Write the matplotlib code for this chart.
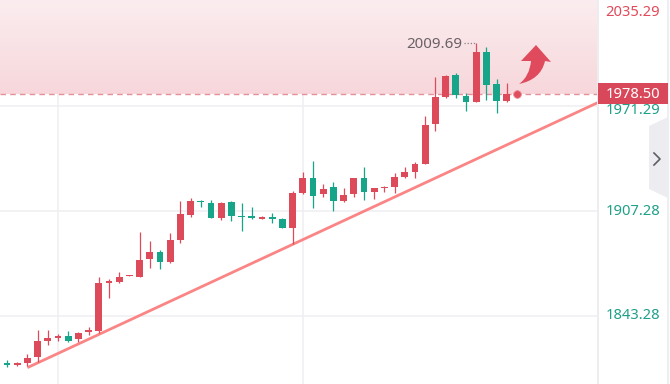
import matplotlib
matplotlib.use("Agg")
import matplotlib.pyplot as plt
import numpy as np
from matplotlib.path import Path
from matplotlib.patches import PathPatch, Polygon, Rectangle
from matplotlib import transforms
from matplotlib.colors import LinearSegmentedColormap

plt.rcParams['font.family'] = ['Noto Sans', 'DejaVu Sans']

# ---- data ----
idx = list(range(-1, 50))
opens = [1815.24, 1814.63, 1813.41, 1814.63, 1818.29, 1828.04, 1830.17, 1831.09, 1829.26, 1833.83,
         1834.14, 1863.40, 1864.01, 1867.36, 1867.05, 1878.03, 1882.29, 1876.20, 1889.61, 1904.85,
         1913.38, 1912.16, 1903.02, 1912.77, 1904.24, 1904.24, 1902.71, 1903.32, 1902.41, 1896.92,
         1918.26, 1927.40, 1917.65, 1921.91, 1913.38, 1917.65, 1927.40, 1918.87, 1921.00, 1921.91,
         1928.01, 1931.06, 1935.93, 1960.32, 1976.78, 1990.19, 1977.39, 1973.73, 2004.21, 1984.70,
         1974.34]
closes = [1814.02, 1813.41, 1814.63, 1817.68, 1828.04, 1829.87, 1830.78, 1828.04, 1832.92, 1834.44,
          1863.40, 1864.62, 1867.05, 1867.97, 1877.42, 1882.29, 1876.20, 1889.61, 1905.46, 1913.38,
          1912.77, 1903.02, 1912.16, 1904.24, 1903.63, 1903.02, 1903.32, 1902.71, 1896.92, 1918.26,
          1927.40, 1916.43, 1920.70, 1913.38, 1917.04, 1927.40, 1918.87, 1921.31, 1921.61, 1928.01,
          1931.06, 1935.93, 1959.71, 1976.78, 1989.58, 1978.00, 1973.73, 2004.21, 1984.09, 1974.34,
          1978.50]
highs = [1816.46, 1816.46, 1815.24, 1820.12, 1834.75, 1834.75, 1832.31, 1834.14, 1833.53, 1836.58,
         1867.05, 1865.83, 1870.10, 1867.97, 1894.48, 1889.00, 1883.51, 1893.87, 1913.38, 1915.21,
         1913.99, 1913.99, 1912.77, 1913.38, 1912.16, 1909.72, 1904.24, 1906.07, 1903.02, 1919.48,
         1931.06, 1937.76, 1923.74, 1924.96, 1921.31, 1927.40, 1934.11, 1921.31, 1922.52, 1930.45,
         1934.11, 1937.15, 1965.19, 1988.97, 1990.19, 1991.41, 1979.21, 2009.69, 2007.25, 1987.75,
         1985.31]
lows = [1812.80, 1812.19, 1812.80, 1812.80, 1815.24, 1825.60, 1828.04, 1827.43, 1827.43, 1831.70,
        1832.92, 1854.25, 1863.40, 1867.36, 1867.05, 1872.54, 1871.93, 1875.59, 1887.78, 1903.63,
        1909.72, 1903.02, 1901.80, 1901.19, 1895.09, 1902.41, 1902.41, 1899.97, 1896.92, 1887.17,
        1917.65, 1909.11, 1915.82, 1907.29, 1912.77, 1915.82, 1913.99, 1914.60, 1918.87, 1918.26,
        1927.40, 1927.40, 1935.93, 1956.05, 1976.17, 1976.17, 1968.24, 1973.73, 1974.95, 1967.02,
        1973.73]

axis_ticks = [1843.28, 1907.28, 1971.29, 2035.29]
axis_labels = ["1843.28", "1907.28", "1971.29", "2035.29"]
current_price = 1978.50
current_label = "1978.50"
high_idx = 46
high_label = "2009.69"
trend_x = [2.0, 58.0]
trend_y = [1811.8, 1973.6]
vgrid_idx = [5, 29]

RED = "#dd4b5b"
GREEN = "#16a588"
W, H = 670, 384

fig = plt.figure(figsize=(W / 100, H / 100), dpi=100)
ax = fig.add_axes([0, 0, 597 / W, 1])
xmin, xmax = -0.686, 57.84
ymin, ymax = 1801.83, 2035.9
ax.set_xlim(xmin, xmax)
ax.set_ylim(ymin, ymax)
ax.axis('off')

# grid
for t in axis_ticks:
    ax.axhline(t, color="#efeff3", lw=1.1, zorder=0.2)
for v in vgrid_idx:
    ax.axvline(v, color="#efeff3", lw=1.1, zorder=0.2)

# pink gradient zone
grad = np.linspace(0, 1, 100).reshape(-1, 1)
cmap = LinearSegmentedColormap.from_list("pk", ["#fbedef", "#f7d7db"])
ax.imshow(grad, extent=[xmin, xmax, current_price, ymax], aspect='auto',
          cmap=cmap, origin='upper', zorder=0.5, interpolation='bilinear')
ax.axhline(current_price, color="#e4909a", lw=1.0, ls=(0, (4, 3)), zorder=0.6)

# trend line
ax.plot(trend_x, trend_y, color="#fb8585", lw=2.0, zorder=1, solid_capstyle='butt')

# candles
o = np.array(opens); c = np.array(closes); h = np.array(highs); l = np.array(lows)
x = np.array(idx)
cols = [RED if cc >= oo else GREEN for oo, cc in zip(o, c)]
ax.vlines(x, l, h, colors=cols, lw=0.9, zorder=2)
bottoms = np.minimum(o, c)
heights = np.maximum(np.abs(c - o), 0.9)
ax.bar(x, heights, bottom=bottoms, width=0.68, color=cols, zorder=3, linewidth=0)

# current price dot
ax.plot([50], [current_price], 'o', color="#df4d5f", markersize=5.5, zorder=4,
        markeredgecolor="#eb8892", markeredgewidth=0.6)

# high annotation
ax.plot([high_idx - 1.2, high_idx], [highs[high_idx + 1]] * 2, ls=(0, (1, 1.5)),
        color="#8a8088", lw=0.9, zorder=4)
ax.text(high_idx - 1.35, highs[high_idx + 1] - 1.2, high_label, ha='right', va='center',
        fontsize=10.9, color="#6a6268", zorder=5)

# curved arrow (pixel coords -> figure fraction)
def P(px, py):
    return (px / W, 1 - py / H)
verts = [P(519, 84), P(533, 81), P(542, 74), P(545, 61),
         P(551, 62), P(536, 45), P(521, 61), P(531, 61),
         P(530, 71), P(526, 79), P(519, 84), P(519, 84)]
codes = [Path.MOVETO, Path.CURVE4, Path.CURVE4, Path.CURVE4,
         Path.LINETO, Path.LINETO, Path.LINETO, Path.LINETO,
         Path.CURVE4, Path.CURVE4, Path.CURVE4, Path.CLOSEPOLY]
fig.patches.append(PathPatch(Path(verts, codes), transform=fig.transFigure,
                             facecolor="#df4b5c", edgecolor="none", zorder=6))

# right panel
fig.add_artist(plt.Line2D([597.5 / W] * 2, [0, 1], color="#ececf1", lw=1.4, transform=fig.transFigure))
fig.add_artist(plt.Line2D([668 / W] * 2, [0, 1], color="#ececf1", lw=1.2, transform=fig.transFigure))

blend = transforms.blended_transform_factory(fig.transFigure, ax.transData)
for t, lab in zip(axis_ticks, axis_labels):
    if lab == "2035.29":
        fig.text(660 / W, 1 - 13 / H, lab, ha='right', va='center', fontsize=10.6, color="#e04a5b")
    elif lab == "1971.29":
        fig.text(660 / W, 1 - 110 / H, lab, ha='right', va='center', fontsize=10.6, color="#1fa088")
    else:
        fig.text(660 / W, t, lab, ha='right', va='center', fontsize=10.6,
                 color="#1fa088", transform=blend)

# current price label box
fig.patches.append(Rectangle(P(598, 104), 70 / W, 21 / H, transform=fig.transFigure,
                             facecolor="#d9485a", edgecolor="none", zorder=8))
fig.text(633 / W, current_price, current_label, ha='center', va='center', fontsize=10.6,
         color="white", transform=blend, zorder=10)

# side tab
tab = Polygon([P(668, 117), P(668, 198), P(649, 189), P(649, 126)], closed=True,
              transform=fig.transFigure, facecolor="#ededf1", edgecolor="none")
fig.patches.append(tab)
fig.add_artist(plt.Line2D([654 / W, 660 / W, 654 / W], [1 - 153 / H, 1 - 159 / H, 1 - 165 / H],
                          color="#5d5d66", lw=1.2, transform=fig.transFigure))

fig.savefig("out.png", dpi=100)
